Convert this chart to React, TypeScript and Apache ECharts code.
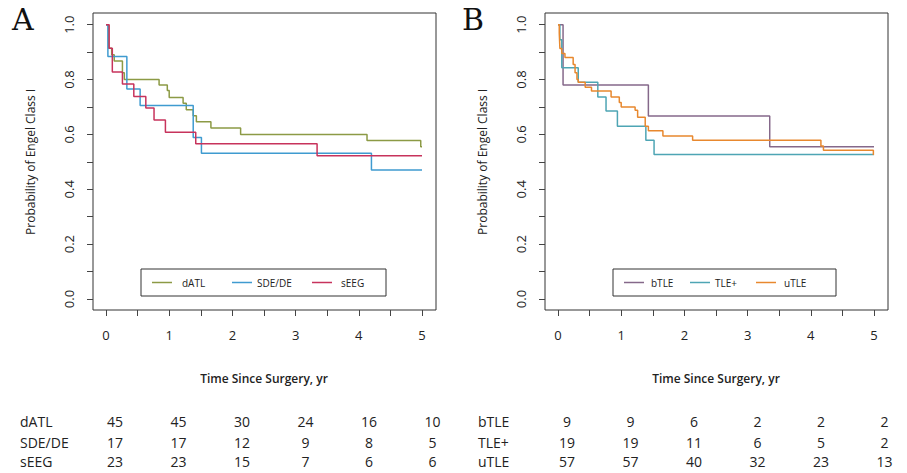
import React, { useEffect, useRef } from "react";
import * as echarts from "echarts";

const dATL_t = [0, 0.04, 0.09, 0.13, 0.26, 0.29, 0.84, 0.97, 1.0, 1.22, 1.27, 1.38, 1.43, 1.66, 2.13, 4.13, 4.98, 5.0];
const dATL_v = [1, 0.914, 0.89, 0.868, 0.825, 0.8, 0.78, 0.76, 0.735, 0.714, 0.69, 0.668, 0.646, 0.623, 0.6, 0.578, 0.555, 0.555];
const SDE_t = [0, 0.03, 0.33, 0.54, 1.38, 1.51, 4.2, 5.0];
const SDE_v = [1, 0.884, 0.766, 0.705, 0.589, 0.531, 0.47, 0.47];
const sEEG_t = [0, 0.05, 0.1, 0.26, 0.44, 0.63, 0.76, 0.94, 1.42, 3.34, 5.0];
const sEEG_v = [1, 0.914, 0.828, 0.784, 0.738, 0.696, 0.653, 0.608, 0.566, 0.522, 0.522];

const bTLE_t = [0, 0.08, 1.43, 3.35, 5.0];
const bTLE_v = [1, 0.78, 0.667, 0.555, 0.555];
const TLEp_t = [0, 0.03, 0.06, 0.32, 0.63, 0.76, 0.94, 1.39, 1.52, 5.0];
const TLEp_v = [1, 0.945, 0.843, 0.79, 0.736, 0.685, 0.63, 0.579, 0.527, 0.527];
const uTLE_t = [0, 0.02, 0.03, 0.06, 0.11, 0.24, 0.27, 0.3, 0.32, 0.43, 0.53, 0.84, 0.97, 1.0, 1.22, 1.26, 1.38, 1.43, 1.66, 2.13, 4.16, 4.2, 4.99, 5.0];
const uTLE_v = [1, 0.97, 0.913, 0.895, 0.88, 0.855, 0.825, 0.8, 0.79, 0.772, 0.758, 0.736, 0.716, 0.7, 0.688, 0.663, 0.63, 0.613, 0.594, 0.579, 0.558, 0.542, 0.525, 0.525];

const xMajor = [0, 1, 2, 3, 4, 5];
const xTicks = [0, 0.5, 1, 1.5, 2, 2.5, 3, 3.5, 4, 4.5, 5];
const yMajor = [0, 0.2, 0.4, 0.6, 0.8, 1.0];
const yTicks = [0, 0.1, 0.2, 0.3, 0.4, 0.5, 0.6, 0.7, 0.8, 0.9, 1.0];

const riskA = [
  { name: "dATL", values: [45, 45, 30, 24, 16, 10] },
  { name: "SDE/DE", values: [17, 17, 12, 9, 8, 5] },
  { name: "sEEG", values: [23, 23, 15, 7, 6, 6] },
];
const riskB = [
  { name: "bTLE", values: [9, 9, 6, 2, 2, 2] },
  { name: "TLE+", values: [19, 19, 11, 6, 5, 2] },
  { name: "uTLE", values: [57, 57, 40, 32, 23, 13] },
];

const FONT = "'Open Sans', 'DejaVu Sans', sans-serif";
const C = { dATL: "#8c9a45", SDE: "#3f9bd0", sEEG: "#c7335c", bTLE: "#85688a", TLEp: "#4ea5b4", uTLE: "#e8882e" };

const zip = (t: number[], v: number[]) => t.map((x, i) => [x, v[i]]);

export default function App() {
  const ref = useRef<HTMLDivElement>(null);
  useEffect(() => {
    const chart = echarts.init(ref.current!, null, { renderer: "svg" });
    const panels = [
      { x0: 106, boxL: 93, boxR: 436, label: "A", lx: 12, ylab: 30, risk: riskA, riskLabelX: 20,
        legend: { x: 141, w: 245, items: [["dATL", C.dATL, 152, 182], ["SDE/DE", C.SDE, 232, 257], ["sEEG", C.sEEG, 312, 341]] } },
      { x0: 558, boxL: 545, boxR: 888, label: "B", lx: 462, ylab: 482, risk: riskB, riskLabelX: 478,
        legend: { x: 613, w: 223, items: [["bTLE", C.bTLE, 624, 651], ["TLE+", C.TLEp, 690, 715], ["uTLE", C.uTLE, 756, 784]] } },
    ];
    const pxYr = 63.2;
    const yTop = 24.7, yBot = 299, boxT = 13, boxB = 310;
    const pxUnit = yBot - yTop;
    const yMin = -(boxB - yBot) / pxUnit, yMax = 1 + (yTop - boxT) / pxUnit;
    const grid = panels.map((p) => ({ left: p.boxL, width: p.boxR - p.boxL, top: boxT, height: boxB - boxT, show: false }));
    const tickCol = { color: "#444" };
    const xAxis = panels.map((p, i) => ({
      type: "value", gridIndex: i, position: "bottom", min: (p.boxL - p.x0) / pxYr, max: (p.boxR - p.x0) / pxYr,
      axisLine: { show: false, onZero: false }, splitLine: { show: false },
      axisTick: { show: true, length: 6, lineStyle: tickCol, customValues: xTicks },
      axisLabel: { customValues: xMajor, fontFamily: FONT, fontSize: 13, color: "#222", margin: 18 },
    }));
    const yAxis = panels.map((_, i) => ({
      type: "value", gridIndex: i, position: "left", min: yMin, max: yMax,
      axisLine: { show: false, onZero: false }, splitLine: { show: false },
      axisTick: { show: true, length: 6, lineStyle: tickCol, customValues: yTicks },
      axisLabel: { customValues: yMajor, fontFamily: FONT, fontSize: 13, color: "#222", rotate: 90, margin: 18, formatter: (v: number) => v.toFixed(1) },
    }));
    const mk = (name: string, t: number[], v: number[], color: string, i: number) => ({
      type: "line", name, xAxisIndex: i, yAxisIndex: i, step: "end", showSymbol: false, symbol: "none",
      data: zip(t, v), lineStyle: { color, width: 1.5 }, itemStyle: { color },
    });
    const series = [
      mk("dATL", dATL_t, dATL_v, C.dATL, 0), mk("SDE/DE", SDE_t, SDE_v, C.SDE, 0), mk("sEEG", sEEG_t, sEEG_v, C.sEEG, 0),
      mk("bTLE", bTLE_t, bTLE_v, C.bTLE, 1), mk("TLE+", TLEp_t, TLEp_v, C.TLEp, 1), mk("uTLE", uTLE_t, uTLE_v, C.uTLE, 1),
    ];
    const graphic: any[] = [];
    const rows = [421, 442, 461];
    panels.forEach((p) => {
      graphic.push({ type: "rect", shape: { x: p.boxL, y: boxT, width: p.boxR - p.boxL, height: boxB - boxT }, style: { fill: "none", stroke: "#333", lineWidth: 1 }, silent: true });
      graphic.push({ type: "text", x: p.lx, y: 4, style: { text: p.label, font: "30px 'DejaVu Serif', serif", fill: "#111" } });
      graphic.push({ type: "text", x: p.ylab, y: (yTop + yBot) / 2, rotation: Math.PI / 2, style: { text: "Probability of Engel Class I", font: `12px ${FONT}`, fill: "#222", align: "center", verticalAlign: "middle" } });
      graphic.push({ type: "text", x: p.x0 + 158, y: 378, style: { text: "Time Since Surgery, yr", font: `600 12px ${FONT}`, fill: "#222", align: "center", verticalAlign: "middle" } });
      const L = p.legend;
      graphic.push({ type: "rect", shape: { x: L.x, y: 269, width: L.w, height: 27 }, style: { fill: "#fff", stroke: "#333", lineWidth: 1 } });
      L.items.forEach(([n, c, lx, tx]: any) => {
        graphic.push({ type: "line", shape: { x1: lx, y1: 282.5, x2: lx + 20, y2: 282.5 }, style: { stroke: c, lineWidth: 1.5 } });
        graphic.push({ type: "text", x: tx, y: 282.5, style: { text: n, font: `10px ${FONT}`, fill: "#222", verticalAlign: "middle" } });
      });
      p.risk.forEach((r, ri) => {
        graphic.push({ type: "text", x: p.riskLabelX, y: rows[ri], style: { text: r.name, font: `14px ${FONT}`, fill: "#222", verticalAlign: "middle" } });
        r.values.forEach((v, ci) => {
          graphic.push({ type: "text", x: p.x0 + 9 + ci * 63.5, y: rows[ri], style: { text: String(v), font: `14px ${FONT}`, fill: "#222", align: "center", verticalAlign: "middle" } });
        });
      });
    });
    chart.setOption({ animation: false, backgroundColor: "#fff", grid, xAxis, yAxis, series, graphic });
    return () => chart.dispose();
  }, []);
  return <div ref={ref} style={{ width: 907, height: 473, position: "absolute", left: 0, top: 0 }} />;
}
